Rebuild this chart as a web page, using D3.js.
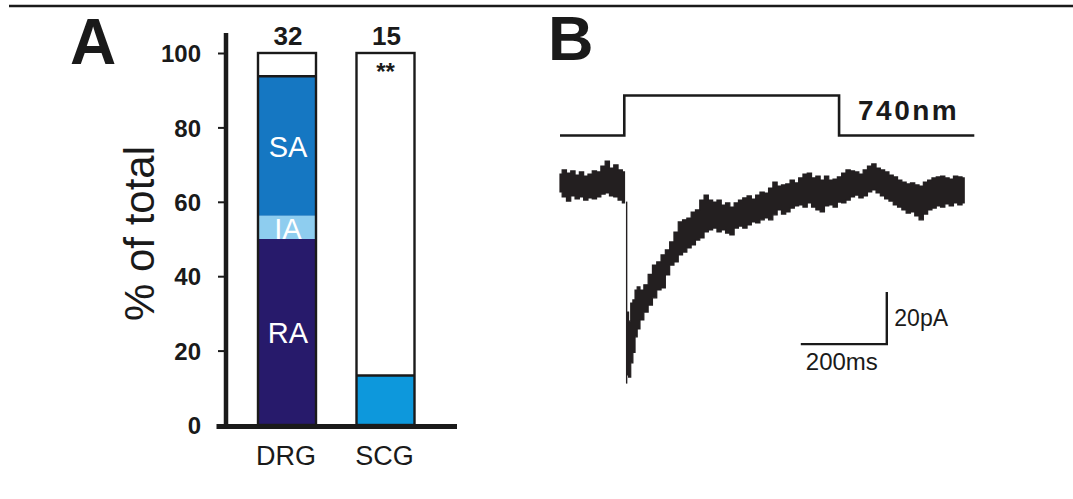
<!DOCTYPE html>
<html><head><meta charset="utf-8">
<script src="https://cdn.jsdelivr.net/npm/d3@7"></script>
<style>html,body{margin:0;padding:0;background:#fff;} svg{display:block;font-family:"Liberation Sans",Arial,Helvetica,sans-serif;}</style>
</head><body><svg id="c" width="1073" height="499"></svg>
<script>
// ---------- Panel A data ----------
const categories = ["DRG", "SCG"];
const seriesKeys = ["RA", "IA", "SA", "SCGblue", "none"];
const seriesLabels = { RA: "RA", IA: "IA", SA: "SA" };
const RA = [50, 0];
const IA = [6.25, 0];
const SA = [37.5, 0];
const SCGblue = [0, 13.33];
const none = [6.25, 86.67];
const counts = [32, 15];
const signif = ["", "**"];
const yTicks = [0, 20, 40, 60, 80, 100];
const yTitle = "% of total";

// ---------- Panel B data ----------
const stimT = [0, 149.5, 149.5, 649, 649, 963.5];
const stimLevel = [0, 0, 1, 1, 0, 0];
const stimLabel = "740nm";
const dropT = 155, dropTop = -6, dropBottom = -76;
const traceT = [0,10,20,30,40,50,60,70,80,90,100,110,120,130,140,150,
  157,162,167,172,177,182,190,200,210,220,230,240,250,260,270,280,290,300,310,320,330,340,350,360,370,380,390,400,
  410,420,430,440,450,460,470,480,490,500,510,520,530,540,550,560,570,580,590,600,610,620,630,640,650,660,670,680,690,700,
  710,720,730,740,750,760,770,780,790,800,810,820,830,840,850,860,870,880,890,900,910,920,930,940];
const traceHi = [4.6,6.2,5.0,5.8,4.2,5.4,3.8,4.6,5.8,5.4,7.7,9.6,6.9,8.1,6.2,5.4,
  -48.5,-52,-45,-43.8,-40,-38.8,-40,-38,-34,-30.4,-29.2,-26.5,-24.6,-21.5,-17.7,-13.8,-13,-12.3,-10,-9.2,-5.4,-3.5,-5.4,-6.2,-5.4,-7.3,-6.5,-8.1,
  -6.5,-5.4,-4.6,-3.8,-5,-3.5,-2.3,-2.7,-0.8,1.5,0,0.4,0.8,2.3,1.2,3.1,4.6,5,3.1,3.8,2.3,3.8,2.3,2.7,3.5,5,6.2,5.8,5.4,4.6,
  6.2,7.7,8.5,6.9,6.2,5.4,4.2,3.5,2.3,1.5,0.8,1.2,0.4,0,1.5,2.3,3.1,3.5,3.8,3.1,2.7,3.8,3.5,3.1];
const traceLo = [-2.3,-4.2,-5.8,-3.8,-5.0,-4.2,-5.4,-4.6,-5.0,-4.2,-3.1,-2.7,-3.8,-4.2,-5.4,-6.5,
  -72.7,-73.5,-68,-64,-58,-55,-51.5,-48.5,-45.8,-43,-40,-39.2,-34.2,-30.4,-29.2,-26.5,-25.4,-23.8,-22.7,-20.8,-20,-17.7,-16.9,-16.2,-17.7,-16.9,-18.1,-18.8,
  -16.2,-15.4,-16.2,-15,-13.8,-14.2,-13,-12.3,-13,-11.1,-9.2,-10.8,-10,-8.5,-7.7,-7.3,-8.1,-6.5,-8.1,-9.2,-10,-7.7,-7.3,-8.1,-6.2,-6.5,-5.4,-4.2,-3.5,-4.6,
  -3.8,-2.3,-1.5,-2.7,-3.8,-5,-5.8,-7.3,-8.1,-9.2,-10.4,-10,-11.5,-13,-10.8,-9.2,-8.5,-7.7,-8.1,-6.9,-7.7,-6.5,-7.3,-6.5];
const scaleBarT = [560, 760];      // 200 ms
const scaleBarI = [-60.8, -40.8];  // 20 pA
const scaleBarLabels = ["200ms", "20pA"];

// ---------- drawing ----------
const svg = d3.select("#c");
const ink = "#1a1a1a";
const colors = { RA: "#271a6b", IA: "#8ecdef", SA: "#1577c2", SCGblue: "#0d98dc", none: "#ffffff" };

// top rule
svg.append("line").attr("x1", 9).attr("x2", 1073).attr("y1", 6).attr("y2", 6)
  .attr("stroke", ink).attr("stroke-width", 2.5);

// Panel letters
svg.append("text").attr("x", 70).attr("y", 63.5).attr("font-size", 64).attr("font-weight", "bold")
  .attr("fill", ink).text("A");
svg.append("text").attr("x", 548).attr("y", 59.5).attr("font-size", 63).attr("font-weight", "bold")
  .attr("fill", ink).text("B");

// Panel A scales
const y = d3.scaleLinear().domain([0, 100]).range([425, 53]);
const x = d3.scalePoint().domain(categories).range([287, 385.5]);
const barW = 58;

const rows = categories.map((c, i) => {
  const r = { cat: c };
  seriesKeys.forEach(k => { r[k] = ({ RA, IA, SA, SCGblue, none })[k][i]; });
  return r;
});
const stacked = d3.stack().keys(seriesKeys)(rows);

const gA = svg.append("g");
const defs = svg.append("defs");

stacked.forEach(s => {
  s.forEach((d, i) => {
    if (d[1] - d[0] <= 0) return;
    gA.append("rect")
      .attr("x", x(categories[i]) - barW / 2).attr("width", barW)
      .attr("y", y(d[1])).attr("height", y(d[0]) - y(d[1]))
      .attr("fill", colors[s.key]);
  });
});

// segment labels (white), clipped to their segment
stacked.forEach(s => {
  if (!seriesLabels[s.key]) return;
  const d = s[0];
  if (d[1] - d[0] <= 0) return;
  const id = "clip-" + s.key;
  defs.append("clipPath").attr("id", id).append("rect")
    .attr("x", x(categories[0]) - barW / 2).attr("width", barW)
    .attr("y", y(d[1])).attr("height", y(d[0]) - y(d[1]));
  const midV = (d[0] + d[1]) / 2;
  gA.append("text").attr("clip-path", `url(#${id})`)
    .attr("x", x(categories[0]) + 1)
    .attr("y", s.key === "IA" ? y(d[0]) : y(midV) + 10.5)
    .attr("text-anchor", "middle").attr("font-size", 29).attr("fill", "#ffffff")
    .text(seriesLabels[s.key]);
});

// boundary line between coloured part and empty part + outline
categories.forEach((c, i) => {
  const top = RA[i] + IA[i] + SA[i] + SCGblue[i];
  gA.append("line")
    .attr("x1", x(c) - barW / 2).attr("x2", x(c) + barW / 2)
    .attr("y1", y(top)).attr("y2", y(top))
    .attr("stroke", ink).attr("stroke-width", 2.5);
  gA.append("rect")
    .attr("x", x(c) - barW / 2).attr("width", barW)
    .attr("y", y(100)).attr("height", y(0) - y(100))
    .attr("fill", "none").attr("stroke", ink).attr("stroke-width", 2.4);
  gA.append("text").attr("x", x(c) + 1).attr("y", y(100) - 8.5)
    .attr("text-anchor", "middle").attr("font-size", 26).attr("font-weight", "bold")
    .attr("fill", ink).text(counts[i]);
  if (signif[i]) {
    gA.append("text").attr("x", x(c)).attr("y", y(100) + 27)
      .attr("text-anchor", "middle").attr("font-size", 24).attr("font-weight", "bold")
      .attr("fill", ink).text(signif[i]);
  }
  gA.append("text").attr("x", x(c) - 1).attr("y", 465)
    .attr("text-anchor", "middle").attr("font-size", 27).attr("fill", ink).text(c);
});

// y axis
const axisX = 226;
const yAxis = d3.axisLeft(y).tickValues(yTicks).tickSize(8).tickPadding(17).tickFormat(d3.format("d"));
const gY = svg.append("g").attr("transform", `translate(${axisX},0)`).call(yAxis);
gY.select(".domain").remove();
gY.selectAll(".tick line").attr("stroke", ink).attr("stroke-width", 2);
gY.selectAll(".tick text").attr("font-size", 24).attr("font-weight", "bold").attr("fill", ink)
  .attr("font-family", '"Liberation Sans",Arial,sans-serif').attr("dy", "0.36em");
svg.append("line").attr("x1", axisX).attr("x2", axisX).attr("y1", 33).attr("y2", 428.5)
  .attr("stroke", ink).attr("stroke-width", 4.5);
svg.append("line").attr("x1", 216.5).attr("x2", 457).attr("y1", 426.5).attr("y2", 426.5)
  .attr("stroke", ink).attr("stroke-width", 5);

// y title
svg.append("text").attr("transform", "translate(154,233.5) rotate(-90)")
  .attr("text-anchor", "middle").attr("font-size", 42).attr("fill", ink).text(yTitle);

// ---------- Panel B ----------
const tx = d3.scaleLinear().domain([0, 950]).range([560, 968.5]);
const iy = d3.scaleLinear().domain([-80, 20]).range([394, 134]);
const sy = d3.scaleLinear().domain([0, 1]).range([135.5, 95.5]);

// stimulus
svg.append("path")
  .attr("d", d3.line().x((d, i) => tx(stimT[i])).y((d, i) => sy(stimLevel[i]))(stimT))
  .attr("fill", "none").attr("stroke", ink).attr("stroke-width", 2.6).attr("stroke-linejoin", "miter");
svg.append("text").attr("x", 858).attr("y", 120).attr("font-size", 28).attr("font-weight", "bold")
  .attr("letter-spacing", "2.5px").attr("fill", ink).text(stimLabel);

// trace (noise envelope drawn as stepped band)
const pts = traceT.map((t, i) => ({ t, hi: traceHi[i], lo: traceLo[i] }));
const area = d3.area().curve(d3.curveStep).x(d => tx(d.t)).y0(d => iy(d.lo)).y1(d => iy(d.hi));
const traceCol = "#231f20";
[pts.filter(d => d.t < dropT), pts.filter(d => d.t > dropT)].forEach(seg => {
  svg.append("path").attr("d", area(seg)).attr("fill", traceCol)
    .attr("stroke", traceCol).attr("stroke-width", 1.2).attr("stroke-linejoin", "miter");
});
svg.append("line").attr("x1", tx(dropT)).attr("x2", tx(dropT))
  .attr("y1", iy(dropTop)).attr("y2", iy(dropBottom))
  .attr("stroke", traceCol).attr("stroke-width", 1.4);

// scale bars
svg.append("path")
  .attr("d", d3.line()([[tx(scaleBarT[0]), iy(scaleBarI[0])], [tx(scaleBarT[1]), iy(scaleBarI[0])], [tx(scaleBarT[1]), iy(scaleBarI[1])]]))
  .attr("fill", "none").attr("stroke", ink).attr("stroke-width", 2.4);
svg.append("text").attr("x", tx(scaleBarT[0]) + 5).attr("y", iy(scaleBarI[0]) + 26)
  .attr("font-size", 24).attr("fill", ink).text(scaleBarLabels[0]);
svg.append("text").attr("x", tx(scaleBarT[1]) + 7.5).attr("y", iy(scaleBarI[0]) - 18)
  .attr("font-size", 23).attr("fill", ink).text(scaleBarLabels[1]);
</script></body></html>
